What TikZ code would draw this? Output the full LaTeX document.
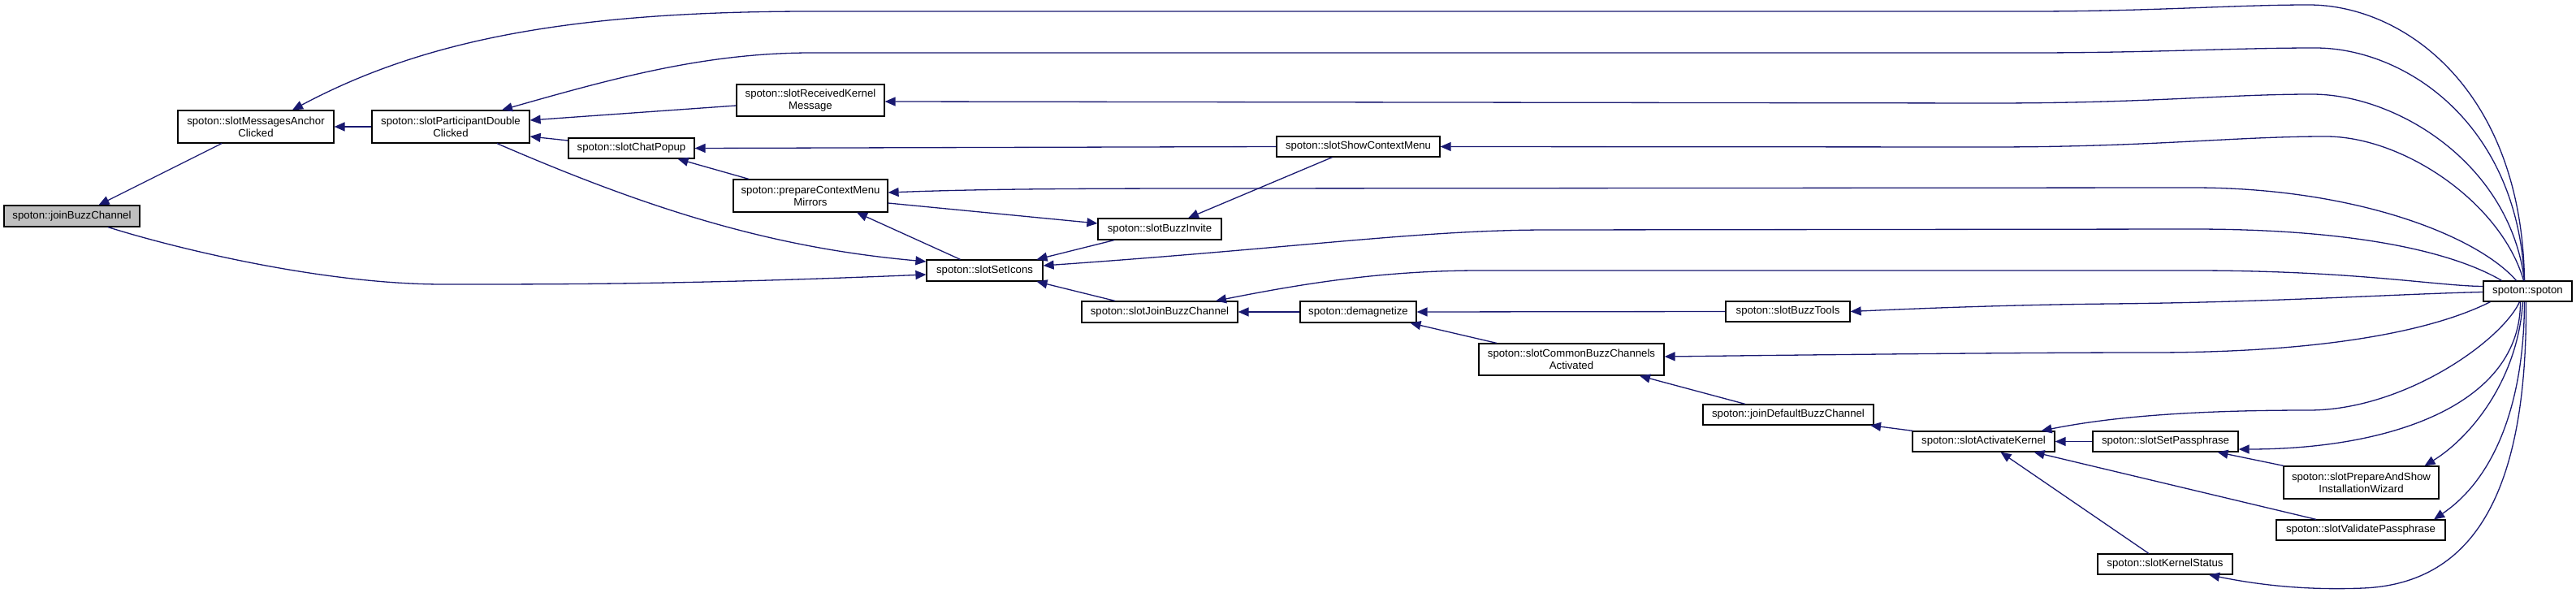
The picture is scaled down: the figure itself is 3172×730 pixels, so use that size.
\documentclass[tikz,border=0pt]{standalone}
\usepackage{fontspec}
\newfontfamily\cgfont{Liberation Sans}
\usetikzlibrary{arrows.meta}
\definecolor{edgecol}{HTML}{191970}
\definecolor{focusfill}{HTML}{BFBFBF}
\begin{document}
\begin{tikzpicture}[x=1pt,y=-1pt,
  fn/.style={draw=black, fill=white, line width=1.2pt, inner sep=0pt, align=center,
             font=\cgfont\fontsize{13.2}{15}\selectfont},
  cgedge/.style={draw=edgecol, line width=1.3pt, arrows={Triangle[length=13pt,width=11pt]-}}]
\useasboundingbox (0,0) rectangle (3172,730);

% nodes
\node[fn, fill=focusfill, minimum width=167pt, minimum height=26pt] (jbc) at (88.5,266) {spoton::joinBuzzChannel};
\node[fn, minimum width=192pt, minimum height=40pt] (sma) at (315,156) {spoton::slotMessagesAnchor\\Clicked};
\node[fn, minimum width=194pt, minimum height=40pt] (spdc) at (555,156) {spoton::slotParticipantDouble\\Clicked};
\node[fn, minimum width=182pt, minimum height=39pt] (srkm) at (998,123.5) {spoton::slotReceivedKernel\\Message};
\node[fn, minimum width=155pt, minimum height=25pt] (scp) at (777.5,182.5) {spoton::slotChatPopup};
\node[fn, minimum width=190pt, minimum height=40pt] (pcmm) at (998,241) {spoton::prepareContextMenu\\Mirrors};
\node[fn, minimum width=201pt, minimum height=25pt] (sscm) at (1672.5,180.5) {spoton::slotShowContextMenu};
\node[fn, minimum width=152pt, minimum height=26pt] (sbi) at (1428,282) {spoton::slotBuzzInvite};
\node[fn, minimum width=143pt, minimum height=26pt] (ssi) at (1212.5,333) {spoton::slotSetIcons};
\node[fn, minimum width=192pt, minimum height=26pt] (sjbc) at (1428,384) {spoton::slotJoinBuzzChannel};
\node[fn, minimum width=143pt, minimum height=26pt] (dem) at (1672.5,384) {spoton::demagnetize};
\node[fn, minimum width=153pt, minimum height=25pt] (sbt) at (2201.5,383.5) {spoton::slotBuzzTools};
\node[fn, minimum width=228pt, minimum height=39pt] (scbca) at (1935,442.5) {spoton::slotCommonBuzzChannels\\Activated};
\node[fn, minimum width=210pt, minimum height=25pt] (jdbc) at (2202,510.5) {spoton::joinDefaultBuzzChannel};
\node[fn, minimum width=175pt, minimum height=25pt] (sak) at (2442.5,543.5) {spoton::slotActivateKernel};
\node[fn, minimum width=179pt, minimum height=25pt] (ssp) at (2666.5,543.5) {spoton::slotSetPassphrase};
\node[fn, minimum width=191pt, minimum height=40pt] (spasiw) at (2907.5,594) {spoton::slotPrepareAndShow\\InstallationWizard};
\node[fn, minimum width=208pt, minimum height=25pt] (svp) at (2907,652.5) {spoton::slotValidatePassphrase};
\node[fn, minimum width=166pt, minimum height=25pt] (sks) at (2666,694.5) {spoton::slotKernelStatus};
\node[fn, minimum width=109pt, minimum height=25pt] (sp) at (3112.5,358.5) {spoton::spoton};

% plain edges
\draw[cgedge] ([xshift=33pt]jbc.north) -- ([xshift=-42pt]sma.south);
\draw[cgedge] (sma.east) -- (spdc.west);
\draw[cgedge] ([yshift=8pt]spdc.east) -- ([yshift=-6.5pt]srkm.west);
\draw[cgedge] ([yshift=-12pt]spdc.east) -- ([yshift=9.5pt]scp.west);
\draw[cgedge] ([yshift=11pt]ssi.west) .. controls (950,305) and (800,258) .. ([xshift=57pt]spdc.south);
\draw[cgedge] ([yshift=-5pt]ssi.west) .. controls (850,350) and (700,350) .. (546,350)
              .. controls (400,350) and (220,307) .. ([xshift=44.5pt]jbc.south);
\draw[cgedge] ([xshift=57pt]scp.south) -- ([xshift=-76pt]pcmm.north);
\draw[cgedge] (scp.east) -- (sscm.west);
\draw[cgedge] ([yshift=7pt]sbi.west) -- ([yshift=-9pt]pcmm.east);
\draw[cgedge] ([xshift=57pt]pcmm.south) -- ([xshift=-30pt]ssi.north);
\draw[cgedge] ([xshift=35pt]sbi.north) -- ([xshift=-32pt]sscm.south);
\draw[cgedge] ([xshift=64pt]ssi.north) -- ([xshift=-56pt]sbi.south);
\draw[cgedge] ([xshift=64pt]ssi.south) -- ([xshift=-55pt]sjbc.north);
\draw[cgedge] (sjbc.east) -- (dem.west);
\draw[cgedge] (dem.east) -- (sbt.west);
\draw[cgedge] ([xshift=64pt]dem.south) -- ([xshift=-92pt]scbca.north);
\draw[cgedge] ([xshift=84pt]scbca.south) -- ([xshift=-53pt]jdbc.north);
\draw[cgedge] ([xshift=101pt]jdbc.south) -- ([xshift=-87pt]sak.north);
\draw[cgedge] (sak.east) -- (ssp.west);
\draw[cgedge] ([xshift=62pt]sak.south) -- ([xshift=-55pt]svp.north);
\draw[cgedge] ([xshift=21pt]sak.south) -- ([xshift=-20pt]sks.north);
\draw[cgedge] ([xshift=64pt]ssp.south) -- ([xshift=-95.5pt]spasiw.north);

% edges from spoton::spoton
\draw[cgedge] ([xshift=45pt]sma.north) .. controls (520,50) and (700,14) .. (1000,14) -- (2500,14)
              .. controls (2650,14) and (2750,6) .. (2843,6)
              .. controls (2960,6) and (3105,110) .. ([xshift=-4pt]sp.north);
\draw[cgedge] ([xshift=63pt]spdc.north) .. controls (760,95) and (870,65) .. (1000,65) -- (2500,65)
              .. controls (2650,65) and (2750,59) .. (2851,59)
              .. controls (2960,59) and (3100,150) .. ([xshift=-4pt]sp.north);
\draw[cgedge] ([yshift=-1.5pt]srkm.east) -- (2450,127)
              .. controls (2650,127) and (2740,116) .. (2847,116)
              .. controls (2950,116) and (3090,200) .. ([xshift=-4pt]sp.north);
\draw[cgedge] (sscm.east) -- (2450,181)
              .. controls (2650,181) and (2750,168) .. (2864,168)
              .. controls (2960,168) and (3080,250) .. ([xshift=-5pt]sp.north);
\draw[cgedge] ([yshift=4pt]pcmm.east) .. controls (1200,233) and (1300,232) .. (1500,232) -- (2700,231)
              .. controls (2900,231) and (3050,290) .. ([xshift=-14pt]sp.north);
\draw[cgedge] ([yshift=6pt]ssi.east) .. controls (1600,305) and (1750,283) .. (1907,283) -- (2700,282)
              .. controls (2900,282) and (3020,310) .. ([xshift=-32pt]sp.north);
\draw[cgedge] ([xshift=69pt]sjbc.north) .. controls (1600,350) and (1700,333) .. (1823,333) -- (2700,333)
              .. controls (2900,333) and (3000,352) .. ([yshift=6pt]sp.west);
\draw[cgedge] (sbt.east) .. controls (2400,378) and (2500,375) .. (2600,374)
              .. controls (2800,372) and (2950,362) .. ([yshift=-1pt]sp.west);
\draw[cgedge] ([yshift=3.5pt]scbca.east) .. controls (2300,436) and (2500,434) .. (2650,434)
              .. controls (2850,434) and (2990,410) .. ([xshift=-46pt]sp.south);
\draw[cgedge] ([xshift=71pt]sak.north) .. controls (2600,513) and (2700,505) .. (2843,505)
              .. controls (2960,505) and (3080,420) .. ([xshift=-10pt]sp.south);
\draw[cgedge] ([yshift=-9.5pt]ssp.east) .. controls (2950,553) and (3104,495) .. ([xshift=-9pt]sp.south);
\draw[cgedge] ([xshift=78pt]spasiw.north) .. controls (3040,540) and (3100,470) .. ([xshift=-6pt]sp.south);
\draw[cgedge] ([xshift=90pt]svp.north) .. controls (3070,590) and (3108,500) .. ([xshift=-4pt]sp.south);
\draw[cgedge] ([xshift=54pt]sks.south) .. controls (2800,724) and (2860,726) .. (2910,724)
              .. controls (3050,718) and (3112,600) .. ([xshift=-2pt]sp.south);
\end{tikzpicture}
\end{document}
